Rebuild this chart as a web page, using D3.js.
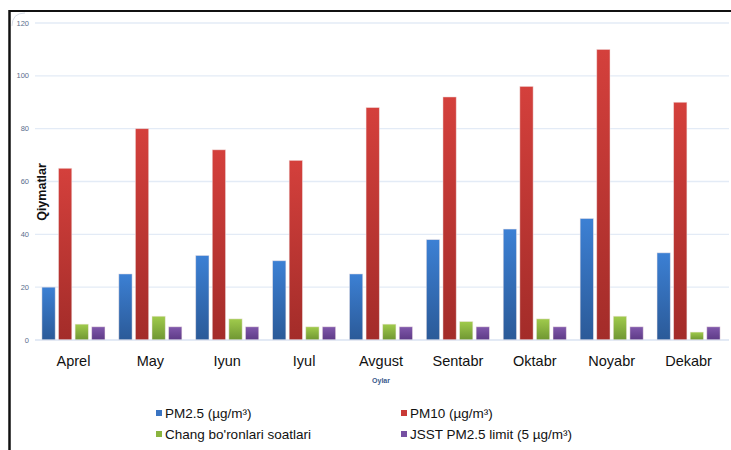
<!DOCTYPE html>
<html>
<head>
<meta charset="utf-8">
<script src="https://cdn.jsdelivr.net/npm/d3@7"></script>
<style>
  html, body { margin: 0; padding: 0; background: #fff; }
  svg { display: block; }
</style>
</head>
<body>
<svg id="chart" width="731" height="450"></svg>
<script>
// Monthly air-quality values
const months = ["Aprel", "May", "Iyun", "Iyul", "Avgust", "Sentabr", "Oktabr", "Noyabr", "Dekabr"];
const pm25 = [20, 25, 32, 30, 25, 38, 42, 46, 33];
const pm10 = [65, 80, 72, 68, 88, 92, 96, 110, 90];
const dustStormHours = [6, 9, 8, 5, 6, 7, 8, 9, 3];
const whoLimit = [5, 5, 5, 5, 5, 5, 5, 5, 5];
const yTicks = [0, 20, 40, 60, 80, 100, 120];

const seriesNames = ["PM2.5 (µg/m³)", "PM10 (µg/m³)", "Chang bo'ronlari soatlari", "JSST PM2.5 limit (5 µg/m³)"];
const seriesValues = [pm25, pm10, dustStormHours, whoLimit];
const seriesColors = [
  { top: "#3c80d4", bottom: "#2b5a98", key: "#3a74c2" },
  { top: "#d4403c", bottom: "#a32c29", key: "#c93a36" },
  { top: "#a0cb4c", bottom: "#6f9632", key: "#8ab43e" },
  { top: "#8058ab", bottom: "#5d3a86", key: "#7650a2" }
];

const svg = d3.select("#chart");
const W = 731, H = 450;

// frame lines
svg.append("line").attr("x1", 9).attr("x2", W).attr("y1", 11).attr("y2", 11)
  .attr("stroke", "#111").attr("stroke-width", 2);
svg.append("line").attr("x1", 9.5).attr("x2", 9.5).attr("y1", 10).attr("y2", H)
  .attr("stroke", "#111").attr("stroke-width", 2.5);
svg.append("path").attr("d", "M12,26 Q12,13 25,13")
  .attr("fill", "none").attr("stroke", "#d7dde6").attr("stroke-width", 1);

const x = d3.scaleBand().domain(months).range([35, 727]).paddingInner(0.18).paddingOuter(0.09);
const y = d3.scaleLinear().domain([0, 120]).range([340, 23]);
const xs = d3.scaleBand().domain(d3.range(4)).range([0, x.bandwidth()]).paddingInner(0.2);

// gradients
const defs = svg.append("defs");
seriesColors.forEach((c, i) => {
  const g = defs.append("linearGradient").attr("id", "grad" + i)
    .attr("x1", 0).attr("y1", 0).attr("x2", 0).attr("y2", 1);
  g.append("stop").attr("offset", "0%").attr("stop-color", c.top);
  g.append("stop").attr("offset", "100%").attr("stop-color", c.bottom);
});

// gridlines
svg.append("g").selectAll("line").data(yTicks).join("line")
  .attr("x1", 35).attr("x2", 729)
  .attr("y1", d => y(d)).attr("y2", d => y(d))
  .attr("stroke", "#e3ebf6").attr("stroke-width", 1.3);

// y tick labels
svg.append("g").selectAll("text").data(yTicks).join("text")
  .attr("x", 29).attr("y", d => y(d) + 2.5)
  .attr("text-anchor", "end")
  .attr("font-family", "Liberation Sans, Arial, sans-serif")
  .attr("font-size", 7.5).attr("fill", "#5a6e8c")
  .text(d => d);

// bars
const groups = svg.append("g").selectAll("g").data(months).join("g")
  .attr("transform", d => `translate(${x(d)},0)`);
groups.selectAll("rect").data((m, mi) => seriesValues.map((s, si) => ({ si, v: s[mi] })))
  .join("rect")
  .attr("x", d => xs(d.si))
  .attr("y", d => y(d.v))
  .attr("width", xs.bandwidth())
  .attr("height", d => y(0) - y(d.v))
  .attr("fill", d => `url(#grad${d.si})`)
  .attr("stroke", "#f3e6e6").attr("stroke-opacity", 0.6).attr("stroke-width", 0.8);

// baseline
svg.append("line").attr("x1", 35).attr("x2", 729).attr("y1", y(0)).attr("y2", y(0))
  .attr("stroke", "#dbe4f1").attr("stroke-width", 1.2);

// category labels
svg.append("g").selectAll("text").data(months).join("text")
  .attr("x", d => x(d) + x.bandwidth() / 2)
  .attr("y", 366)
  .attr("text-anchor", "middle")
  .attr("font-family", "Liberation Sans, Arial, sans-serif")
  .attr("font-size", 14.5).attr("fill", "#111")
  .text(d => d);

// axis titles
svg.append("text").attr("x", 381).attr("y", 383).attr("text-anchor", "middle")
  .attr("font-family", "Liberation Sans, Arial, sans-serif")
  .attr("font-size", 7).attr("font-weight", "bold").attr("fill", "#3b5a8c")
  .text("Oylar");
svg.append("text")
  .attr("transform", "translate(46,192) rotate(-90)")
  .attr("text-anchor", "middle")
  .attr("font-family", "Liberation Sans, Arial, sans-serif")
  .attr("font-size", 12.5).attr("font-weight", "bold").attr("fill", "#111")
  .text("Qiymatlar");

// legend
const legendPos = [[156, 410], [401, 410], [156, 431], [401, 431]];
const legend = svg.append("g").selectAll("g").data(seriesNames).join("g")
  .attr("transform", (d, i) => `translate(${legendPos[i][0]},${legendPos[i][1]})`);
legend.append("rect").attr("width", 6).attr("height", 6)
  .attr("fill", (d, i) => seriesColors[i].key);
legend.append("text").attr("x", 9).attr("y", 7.5)
  .attr("font-family", "Liberation Sans, Arial, sans-serif")
  .attr("font-size", 13.5).attr("fill", "#111")
  .text(d => d);
</script>
</body>
</html>
